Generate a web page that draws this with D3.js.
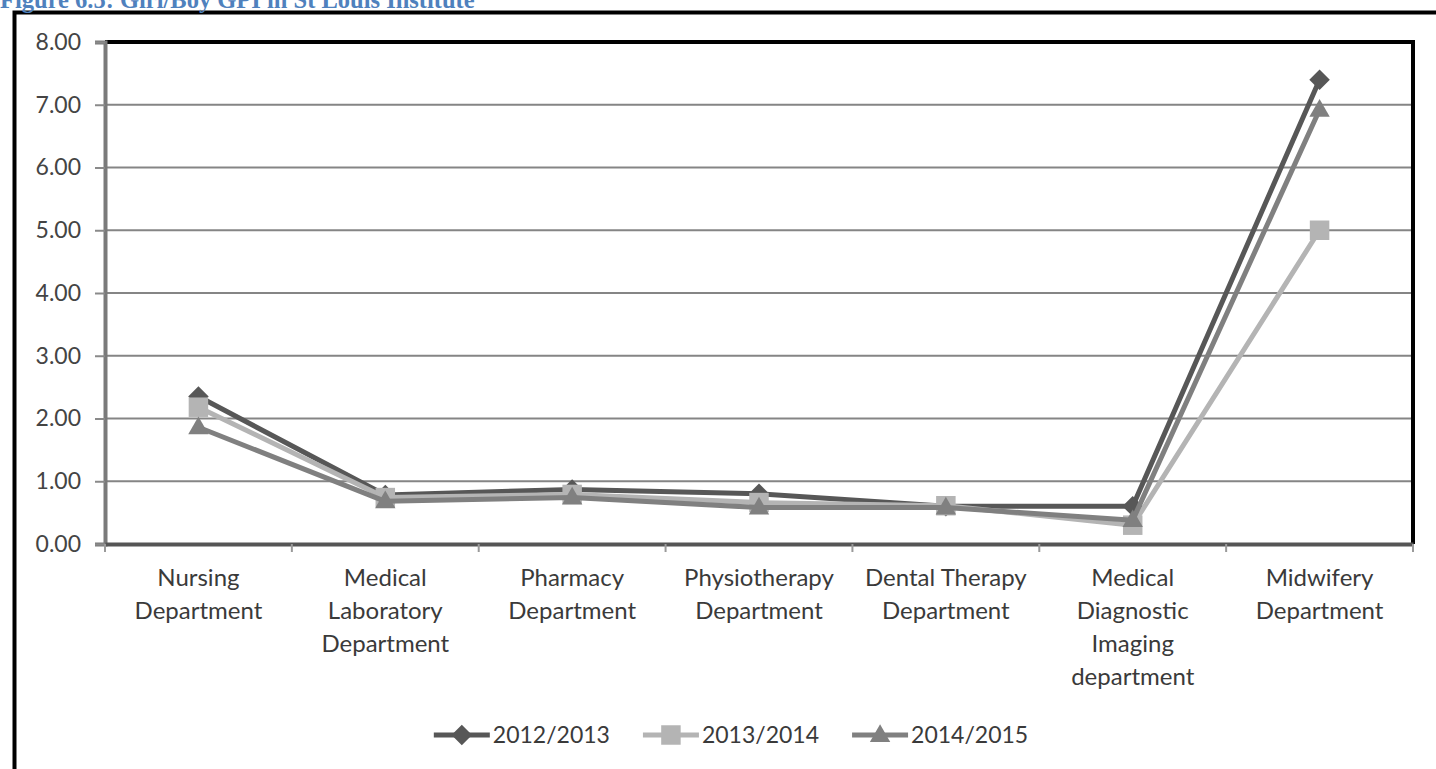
<!DOCTYPE html>
<html>
<head>
<meta charset="utf-8">
<script src="https://cdn.jsdelivr.net/npm/d3@7"></script>
<style>
  html, body { margin: 0; padding: 0; background: #fff; }
  svg { display: block; }
</style>
</head>
<body>
<svg id="chart" width="1436" height="769"></svg>
<script>
// ---------------- data ----------------
const title = "Figure 6.5: Girl/Boy GPI in St Louis Institute";
const categories = [
  "Nursing Department",
  "Medical Laboratory Department",
  "Pharmacy Department",
  "Physiotherapy Department",
  "Dental Therapy Department",
  "Medical Diagnostic Imaging department",
  "Midwifery Department"
];
const categoryLines = [
  ["Nursing", "Department"],
  ["Medical", "Laboratory", "Department"],
  ["Pharmacy", "Department"],
  ["Physiotherapy", "Department"],
  ["Dental Therapy", "Department"],
  ["Medical", "Diagnostic", "Imaging", "department"],
  ["Midwifery", "Department"]
];
const seriesNames = ["2012/2013", "2013/2014", "2014/2015"];
const values2012 = [2.35, 0.78, 0.87, 0.80, 0.60, 0.60, 7.40];
const values2013 = [2.18, 0.74, 0.79, 0.66, 0.61, 0.30, 5.00];
const values2014 = [1.86, 0.68, 0.74, 0.58, 0.58, 0.38, 6.92];
const yTicks = [0, 1, 2, 3, 4, 5, 6, 7, 8];

// ---------------- styles ----------------
const colors = ["#575757", "#b4b4b4", "#808080"];
const symbols = ["diamond", "square", "triangle"];
const series = [values2012, values2013, values2014].map((v, i) => ({
  name: seriesNames[i], values: v, color: colors[i], symbol: symbols[i]
}));

const svg = d3.select("#chart");
const W = 1436, H = 769;
const plot = { left: 105, right: 1413, top: 42, bottom: 544 };
const FONT = "Lato, 'Open Sans', sans-serif";
const textColor = "#3a3a3a";

// outer frame (cropped)
svg.append("rect").attr("x", 0).attr("y", 0).attr("width", W).attr("height", H).attr("fill", "#fff");
svg.append("path")
  .attr("d", `M14.5,${H + 5} L14.5,12.5 L${W + 5},12.5`)
  .attr("fill", "none").attr("stroke", "#000").attr("stroke-width", 4);

// title (cropped at top, as in the source)
svg.append("text")
  .attr("x", 0).attr("y", 8)
  .attr("font-family", "'Liberation Serif', 'Times New Roman', serif")
  .attr("font-weight", "bold")
  .attr("font-size", 24.5)
  .attr("fill", "#4f81bd")
  .text(title);

// scales
const x = d3.scaleBand().domain(categories).range([plot.left, plot.right]).padding(0);
const y = d3.scaleLinear().domain([0, 8]).range([plot.bottom, plot.top]);

// gridlines
svg.append("g")
  .selectAll("line").data(yTicks.filter(t => t > 0)).join("line")
  .attr("x1", plot.left).attr("x2", plot.right)
  .attr("y1", d => y(d)).attr("y2", d => y(d))
  .attr("stroke", "#858585").attr("stroke-width", 2);

// plot border top/right black
svg.append("path")
  .attr("d", `M${plot.left},${plot.top} L${plot.right},${plot.top} L${plot.right},${plot.bottom}`)
  .attr("fill", "none").attr("stroke", "#000").attr("stroke-width", 4);

// y axis
const yAxis = d3.axisLeft(y).tickValues(yTicks).tickFormat(d3.format(".2f")).tickSize(10).tickPadding(14);
const gy = svg.append("g").attr("transform", `translate(${plot.left},0)`).call(yAxis);
gy.select(".domain").attr("stroke", "#7a7a7a").attr("stroke-width", 4);
gy.selectAll(".tick line").attr("stroke", "#8a8a8a").attr("stroke-width", 2);
gy.selectAll(".tick text")
  .attr("font-family", FONT).attr("font-size", 23).attr("fill", "#444");

// x axis (labels)
const xAxis = d3.axisBottom(x).tickSize(0).tickFormat(() => "");
const gx = svg.append("g").attr("transform", `translate(0,${plot.bottom})`).call(xAxis);
gx.select(".domain").attr("stroke", "#555").attr("stroke-width", 4);
// boundary tick marks
const bounds = categories.map(c => x(c)).concat([x.range()[1]]);
svg.append("g").selectAll("line").data(bounds).join("line")
  .attr("x1", d => d).attr("x2", d => d)
  .attr("y1", plot.bottom).attr("y2", plot.bottom + 8)
  .attr("stroke", "#9a9a9a").attr("stroke-width", 2);

// category labels
const lblG = svg.append("g");
categories.forEach((c, i) => {
  const t = lblG.append("text")
    .attr("x", x(c) + x.bandwidth() / 2)
    .attr("y", 586)
    .attr("text-anchor", "middle")
    .attr("font-family", FONT).attr("font-size", 24).attr("fill", textColor);
  categoryLines[i].forEach((ln, j) => {
    t.append("tspan").attr("x", x(c) + x.bandwidth() / 2).attr("dy", j === 0 ? 0 : 33).text(ln);
  });
});

// symbol generator
function symbolPath(kind) {
  if (kind === "diamond") return d3.symbol().type(d3.symbolSquare).size(210)();
  if (kind === "square") return d3.symbol().type(d3.symbolSquare).size(380)();
  return d3.symbol().type(d3.symbolTriangle).size(180)();
}
function symbolTransform(kind, px, py) {
  if (kind === "diamond") return `translate(${px},${py}) rotate(45)`;
  if (kind === "triangle") return `translate(${px},${py + 1})`;
  return `translate(${px},${py})`;
}

// lines & markers
const line = d3.line()
  .x((d, i) => x(categories[i]) + x.bandwidth() / 2)
  .y(d => y(d));

series.forEach(s => {
  const g = svg.append("g");
  g.append("path").datum(s.values)
    .attr("d", line)
    .attr("fill", "none").attr("stroke", s.color).attr("stroke-width", 5)
    .attr("stroke-linejoin", "round");
  g.selectAll("path.m").data(s.values).join("path").attr("class", "m")
    .attr("d", symbolPath(s.symbol))
    .attr("transform", (d, i) => symbolTransform(s.symbol, x(categories[i]) + x.bandwidth() / 2, y(d)))
    .attr("fill", s.color);
});

// legend
const legendY = 735;
const lineLen = 56, textGap = 3, itemGap = 33;
const legend = svg.append("g");
const items = series.map(s => {
  const g = legend.append("g");
  g.append("line").attr("x1", 0).attr("x2", lineLen).attr("y1", 0).attr("y2", 0)
    .attr("stroke", s.color).attr("stroke-width", 5);
  g.append("path").attr("d", symbolPath(s.symbol))
    .attr("transform", symbolTransform(s.symbol, lineLen / 2, 0)).attr("fill", s.color);
  const t = g.append("text").attr("x", lineLen + textGap).attr("y", 8)
    .attr("font-family", FONT).attr("font-size", 23).attr("fill", textColor).text(s.name);
  return { g, w: lineLen + textGap + t.node().getComputedTextLength() };
});
const totalW = d3.sum(items, d => d.w) + itemGap * (items.length - 1);
let cx = 731 - totalW / 2;
items.forEach(it => {
  it.g.attr("transform", `translate(${cx},${legendY})`);
  cx += it.w + itemGap;
});
</script>
</body>
</html>
